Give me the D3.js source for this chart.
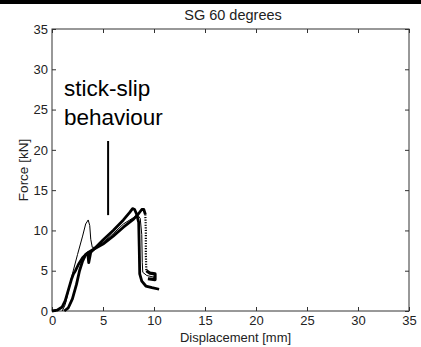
<!DOCTYPE html>
<html><head><meta charset="utf-8">
<script src="https://cdn.jsdelivr.net/npm/d3@7"></script>
<style>body{margin:0;background:#fff}svg{display:block}text{font-family:"Liberation Sans",Arial,sans-serif}</style>
</head><body>
<script>
const title = "SG 60 degrees";
const xLabel = "Displacement [mm]";
const yLabel = "Force [kN]";
const xTicks = [0,5,10,15,20,25,30,35];
const yTicks = [0,5,10,15,20,25,30,35];
const annotationLines = ["stick-slip","behaviour"];
const annotationX = 5.5, annotationY = [11.9, 21.1];

// Test A (thin line)
const testA = [[1.0,0],[1.3,0.8],[1.6,2.4],[2.0,4.6],[2.5,7.0],[3.0,9.3],[3.3,10.8],[3.55,11.3],[3.7,10.6],[3.8,8.9],[3.95,7.9],[4.3,7.9],[5.0,8.5],[6.0,9.6],[7.0,10.8],[8.0,11.6],[8.4,11.9],[8.65,11.5],[8.8,9.5],[8.85,6.0],[8.9,4.8],[9.3,4.4],[10.0,4.2]];
// Test B (thick, first peak)
const testB = [[0,0],[0.5,0.1],[1.0,0.5],[1.3,1.3],[1.6,2.6],[1.9,3.9],[2.1,4.6],[2.3,5.0],[2.6,5.8],[3.0,6.6],[3.3,7.0],[3.5,7.2],[3.6,6.0],[3.8,7.3],[4.2,7.8],[5.0,8.8],[6.0,10.0],[7.0,11.3],[7.6,12.2],[7.9,12.7],[8.1,12.6],[8.3,12.0],[8.5,11.0],[8.55,8.0],[8.6,4.6],[8.8,3.7],[9.2,3.1],[9.8,2.9],[10.5,2.7]];
// Test C (thick, second peak; drop sampled sparsely)
const testC = [[1.2,0],[1.6,0.4],[2.0,1.5],[2.4,3.3],[2.7,5.0],[3.0,6.2],[3.3,7.0],[3.6,7.3],[4.0,7.6],[5.0,8.3],[6.0,9.3],[7.0,10.4],[8.0,11.4],[8.5,12.1],[8.8,12.6],[9.0,12.6],[9.15,12.0]];
const testCDrop = [[9.15,12.0],[9.2,10.0],[9.2,7.0],[9.25,5.0]];
const testCTail = [[9.25,5.0],[9.6,4.7],[10.1,4.6],[10.1,3.9],[9.4,4.0]];

const W = 421, H = 347;
const m = {l:52, r:12, t:29, b:36};
const svg = d3.select("body").append("svg").attr("width",W).attr("height",H);
svg.append("rect").attr("x",0).attr("y",0).attr("width",W).attr("height",4).attr("fill","#000");

const x = d3.scaleLinear().domain([0,35]).range([m.l, W-m.r]);
const y = d3.scaleLinear().domain([0,35]).range([H-m.b, m.t]);
const axisColor = "#333";

function styleAxis(g){ g.select(".domain").remove(); g.selectAll("line").attr("stroke",axisColor);
  g.selectAll("text").attr("fill","#222").style("font-size","13px"); }

svg.append("g").attr("transform",`translate(0,${y(0)})`)
  .call(d3.axisBottom(x).tickValues(xTicks).tickSize(-4).tickPadding(5).tickFormat(d3.format("d"))).call(styleAxis);
svg.append("g").attr("transform",`translate(0,${y(35)})`)
  .call(d3.axisTop(x).tickValues(xTicks).tickSize(-4).tickFormat("")).call(styleAxis);
svg.append("g").attr("transform",`translate(${x(0)},0)`)
  .call(d3.axisLeft(y).tickValues(yTicks).tickSize(-4).tickPadding(4).tickFormat(d3.format("d"))).call(styleAxis);
svg.append("g").attr("transform",`translate(${x(35)},0)`)
  .call(d3.axisRight(y).tickValues(yTicks).tickSize(-4).tickFormat("")).call(styleAxis);
svg.append("rect").attr("x",x(0)).attr("y",y(35)).attr("width",x(35)-x(0)).attr("height",y(0)-y(35))
  .attr("fill","none").attr("stroke",axisColor).attr("stroke-width",1);

const line = d3.line().x(d=>x(d[0])).y(d=>y(d[1])).curve(d3.curveLinear);
const plot = svg.append("g");
plot.append("path").datum(testB).attr("d",line).attr("fill","none").attr("stroke","#000").attr("stroke-width",2.8).attr("stroke-linejoin","round");
plot.append("path").datum(testC).attr("d",line).attr("fill","none").attr("stroke","#000").attr("stroke-width",2.8).attr("stroke-linejoin","round");
plot.append("path").datum(testCDrop).attr("d",line).attr("fill","none").attr("stroke","#000").attr("stroke-width",2.2).attr("stroke-dasharray","1.2,1.4");
plot.append("path").datum(testCTail).attr("d",line).attr("fill","none").attr("stroke","#000").attr("stroke-width",3.2).attr("stroke-linejoin","round");
plot.append("path").datum(testA).attr("d",line).attr("fill","none").attr("stroke","#000").attr("stroke-width",1).attr("stroke-linejoin","round");

// annotation
svg.append("line").attr("x1",x(annotationX)).attr("x2",x(annotationX)).attr("y1",y(annotationY[0])).attr("y2",y(annotationY[1]))
  .attr("stroke","#000").attr("stroke-width",2);
svg.append("text").attr("x",64).attr("y",96).style("font-size","22.5px").attr("fill","#000").text(annotationLines[0]);
svg.append("text").attr("x",64).attr("y",125).style("font-size","22.5px").attr("fill","#000").text(annotationLines[1]);

svg.append("text").attr("x",233).attr("y",20).attr("text-anchor","middle").style("font-size","14.5px").attr("fill","#222").text(title);
svg.append("text").attr("x",(x(0)+x(35))/2+5).attr("y",342).attr("text-anchor","middle").style("font-size","13px").attr("fill","#222").text(xLabel);
svg.append("text").attr("transform",`translate(27.5,${(y(0)+y(35))/2}) rotate(-90)`).attr("text-anchor","middle").style("font-size","13.5px").attr("fill","#222").text(yLabel);
</script>
</body></html>
